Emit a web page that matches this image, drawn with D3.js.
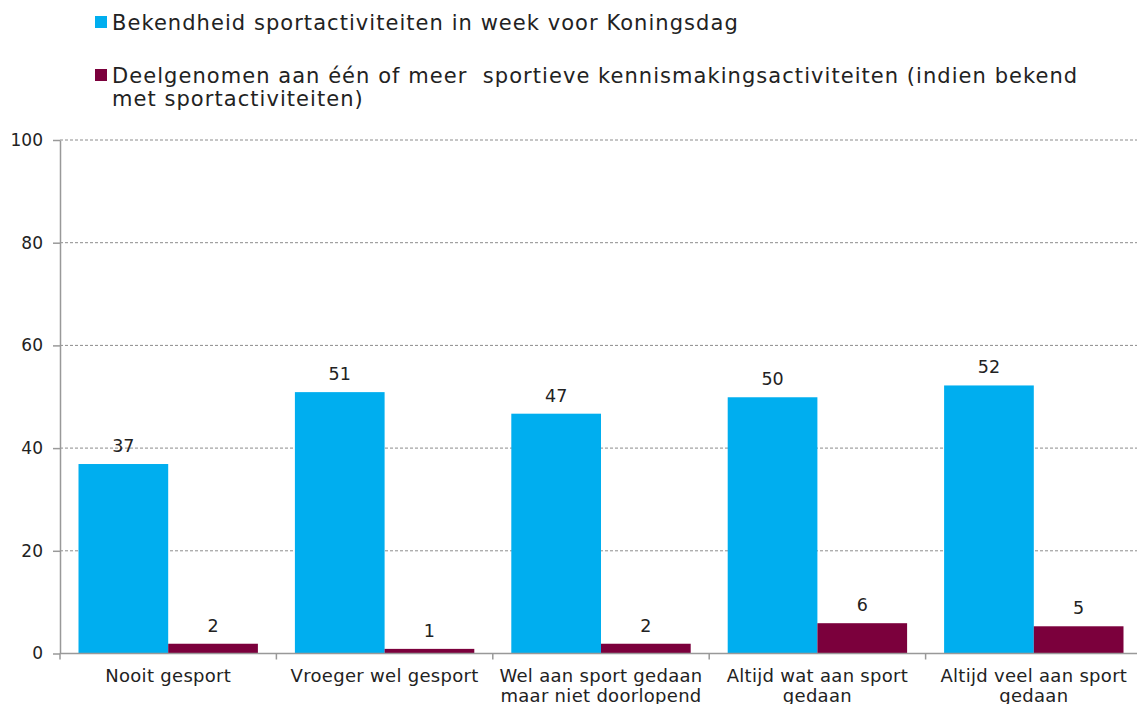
<!DOCTYPE html>
<html>
<head>
<meta charset="utf-8">
<script src="https://cdn.jsdelivr.net/npm/d3@7"></script>
<style>
  body { margin: 0; background: #fff; }
  text { font-family: "DejaVu Sans", Verdana, sans-serif; fill: #222; }
</style>
</head>
<body>
<div id="chart"></div>
<script>
// categories and series
const categories = [
    ["Nooit gesport"],
    ["Vroeger wel gesport"],
    ["Wel aan sport gedaan", "maar niet doorlopend"],
    ["Altijd wat aan sport", "gedaan"],
    ["Altijd veel aan sport", "gedaan"]
];
const seriesNames = [
    ["Bekendheid sportactiviteiten in week voor Koningsdag"],
    ["Deelgenomen aan één of meer  sportieve kennismakingsactiviteiten (indien bekend", "met sportactiviteiten)"]
];
const bekendheid = [36.9, 50.9, 46.7, 49.9, 52.2];
const deelgenomen = [1.9, 0.9, 1.9, 5.9, 5.3];
const yTicks = [0, 20, 40, 60, 80, 100];
const colors = ["#00aeef", "#7b003c"];

const width = 1137, height = 704;
const margin = {top: 140, left: 60, bottom: 50};
const bandW = 216.4;

const svg = d3.select("#chart").append("svg")
    .attr("width", width)
    .attr("height", height);

const catKeys = categories.map(c => c.join(" "));

const x0 = d3.scaleBand()
    .domain(catKeys)
    .range([margin.left, margin.left + bandW * catKeys.length])
    .padding(0);

const x1 = d3.scaleBand()
    .domain([0, 1])
    .range([18.5, bandW - 18.5]);

const y = d3.scaleLinear()
    .domain([0, 100])
    .range([653.5, margin.top]);

// gridlines
svg.append("g").selectAll("line")
    .data(yTicks.filter(d => d > 0))
    .join("line")
    .attr("x1", margin.left)
    .attr("x2", width)
    .attr("y1", d => y(d))
    .attr("y2", d => y(d))
    .attr("stroke", "#8c8c8c")
    .attr("stroke-width", 1)
    .attr("stroke-dasharray", "3,2");

// y axis
let yAxis = d3.axisLeft(y).tickValues(yTicks).tickSize(7).tickPadding(10).tickSizeOuter(0);
let yg = svg.append("g")
    .attr("transform", `translate(${margin.left},0)`)
    .call(yAxis);
yg.select(".domain").attr("stroke", "#999").attr("stroke-width", 1.5);
yg.selectAll(".tick line").attr("stroke", "#999").attr("stroke-width", 1.5);
yg.selectAll(".tick text").style("font-size", "17px").attr("fill", "#222");

// bars
const rows = catKeys.map((k, i) => ({key: k, values: [bekendheid[i], deelgenomen[i]]}));

const groups = svg.append("g").selectAll("g")
    .data(rows)
    .join("g")
    .attr("transform", d => `translate(${x0(d.key)},0)`);

groups.selectAll("rect")
    .data(d => d.values.map((v, s) => ({v, s})))
    .join("rect")
    .attr("x", d => x1(d.s))
    .attr("width", x1.bandwidth())
    .attr("y", d => y(d.v))
    .attr("height", d => y(0) - y(d.v))
    .attr("fill", d => colors[d.s]);

groups.selectAll("text.val")
    .data(d => d.values.map((v, s) => ({v, s})))
    .join("text")
    .attr("class", "val")
    .attr("x", d => x1(d.s) + x1.bandwidth() / 2)
    .attr("y", d => y(d.v) - 12)
    .attr("text-anchor", "middle")
    .style("font-size", "17.5px")
    .text(d => Math.round(d.v));

// x axis line and boundary ticks
const xg = svg.append("g");
xg.append("line")
    .attr("x1", margin.left)
    .attr("x2", width)
    .attr("y1", y(0))
    .attr("y2", y(0))
    .attr("stroke", "#999")
    .attr("stroke-width", 1.5);
xg.selectAll("line.tick")
    .data(catKeys)
    .join("line")
    .attr("class", "tick")
    .attr("x1", d => x0(d))
    .attr("x2", d => x0(d))
    .attr("y1", y(0))
    .attr("y2", y(0) + 6)
    .attr("stroke", "#999")
    .attr("stroke-width", 1.5);

xg.selectAll("text")
    .data(categories)
    .join("text")
    .attr("x", (d, i) => x0(catKeys[i]) + bandW / 2)
    .attr("y", 682)
    .attr("text-anchor", "middle")
    .style("font-size", "18px")
    .style("letter-spacing", "0.3px")
    .selectAll("tspan")
    .data(d => d)
    .join("tspan")
    .attr("x", function() { return this.parentNode.getAttribute("x"); })
    .attr("dy", (d, i) => i === 0 ? 0 : 20)
    .text(d => d);

// legend
const legendY = [30, 83];
const lg = svg.append("g").selectAll("g")
    .data(seriesNames)
    .join("g");
lg.append("rect")
    .attr("x", 95)
    .attr("y", (d, i) => legendY[i] - 14)
    .attr("width", 12)
    .attr("height", 12)
    .attr("fill", (d, i) => colors[i]);
lg.append("text")
    .attr("x", 112)
    .attr("y", (d, i) => legendY[i])
    .style("font-size", "21px")
    .style("letter-spacing", "1.05px")
    .style("white-space", "pre")
    .selectAll("tspan")
    .data(d => d)
    .join("tspan")
    .attr("x", 112)
    .attr("dy", (d, i) => i === 0 ? 0 : 23)
    .text(d => d);
</script>
</body>
</html>
